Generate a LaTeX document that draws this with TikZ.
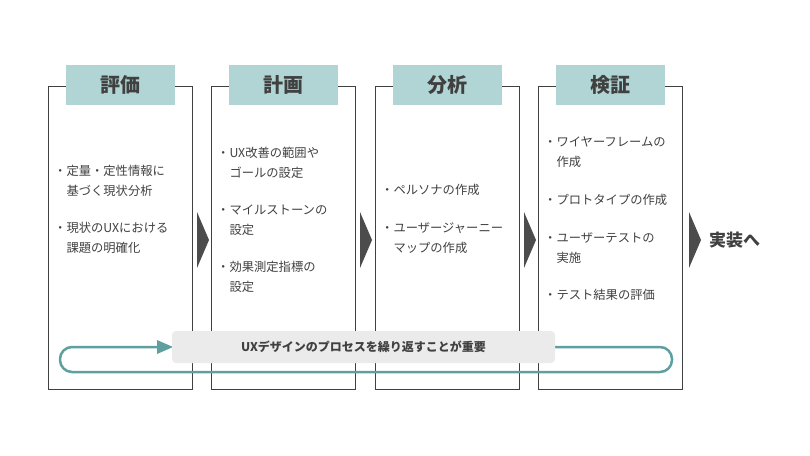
\documentclass[tikz,border=0pt]{standalone}
\usepackage{fontspec}
\setmainfont{Noto Sans CJK JP}
\begin{document}
\begin{tikzpicture}[x=1pt,y=-1pt,
  stage/.style={draw=black!75,line width=0.7pt},
  head/.style={fill=headfill,minimum width=109pt,minimum height=40pt,inner sep=0pt,font=\fontsize{20}{20}\selectfont\bfseries,text=black!75},
  item/.style={anchor=west,align=left,inner sep=0pt,font=\fontsize{12.3}{19.5}\selectfont,text=black!75},
  tri/.style={fill=black!70,draw=none}]
\definecolor{headfill}{HTML}{B1D5D5}
\definecolor{loopc}{HTML}{5E9FA0}
\definecolor{labfill}{HTML}{EBEBEB}
\useasboundingbox (0,0) rectangle (810,455);
\foreach \x/\n in {48/a,211/b,375/c,538/d}{
  \draw[stage] (\x,86) rectangle ++(144,303);
}
\node[head] (ha) at (120,85) {評価};
\node[head] (hb) at (283,85) {計画};
\node[head] (hc) at (447,85) {分析};
\node[head] (hd) at (610,85) {検証};
\foreach \x in {197,360,524,689}{
  \fill[tri] (\x,212) -- (\x+12,240) -- (\x,268) -- cycle;
}
\node[anchor=west,inner sep=0pt,font=\fontsize{17}{17}\selectfont\bfseries,text=black!75] (impl) at (709,240) {実装へ};
% items
\node[item] (a1) at (54,181) {・定量・定性情報に\\\hspace{12.3pt}基づく現状分析};
\node[item] (a2) at (54,238) {・現状のUXにおける\\\hspace{12.3pt}課題の明確化};
\node[item] (b1) at (217,163) {・UX改善の範囲や\\\hspace{12.3pt}ゴールの設定};
\node[item] (b2) at (217,220) {・マイルストーンの\\\hspace{12.3pt}設定};
\node[item] (b3) at (217,277) {・効果測定指標の\\\hspace{12.3pt}設定};
\node[item] (c1) at (381,190) {・ペルソナの作成};
\node[item] (c2) at (381,238) {・ユーザージャーニー\\\hspace{12.3pt}マップの作成};
\node[item] (d1) at (544,152) {・ワイヤーフレームの\\\hspace{12.3pt}作成};
\node[item] (d2) at (544,200) {・プロトタイプの作成};
\node[item] (d3) at (544,248) {・ユーザーテストの\\\hspace{12.3pt}実施};
\node[item] (d4) at (544,295) {・テスト結果の評価};
% loop
\coordinate (ls) at (540,347);
\draw[loopc,line width=2.5pt,rounded corners=12pt] (ls) -- (672,347) -- (672,372) -- (60,372) -- (60,347) -- (158,347);
\fill[loopc] (157,340) -- (173,347) -- (157,354) -- cycle;
\node[fill=labfill,rounded corners=4pt,minimum width=383pt,minimum height=32pt,inner sep=0pt,font=\fontsize{12}{12}\selectfont\bfseries,text=black!75] (lab) at (363.5,347) {UXデザインのプロセスを繰り返すことが重要};
\end{tikzpicture}
\end{document}
